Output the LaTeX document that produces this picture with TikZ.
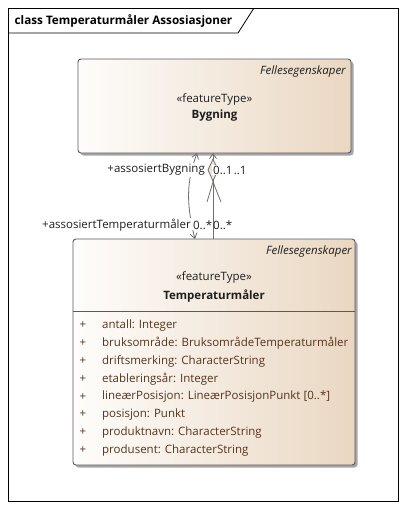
\documentclass[tikz,border=0pt]{standalone}
\usepackage{fontspec}
\setmainfont{Open Sans}
\usetikzlibrary{arrows.meta,shadows}
\definecolor{tanr}{RGB}{234,215,194}
\definecolor{tanl}{RGB}{254,253,251}
\definecolor{boxline}{RGB}{90,90,90}
\definecolor{connline}{RGB}{110,110,110}
\definecolor{attrcol}{RGB}{85,52,30}
\definecolor{txt}{RGB}{30,30,30}
\definecolor{diam}{RGB}{243,226,205}
\tikzset{
  classbox/.style={draw=boxline, line width=0.9pt, rounded corners=3pt,
    left color=tanl, right color=tanr, inner sep=0pt,
    drop shadow={shadow xshift=2.5pt, shadow yshift=-2.5pt, fill=black, opacity=0.35}},
  conn/.style={draw=connline, line width=0.8pt},
  barbtip/.tip={Straight Barb[length=5pt,width=7pt]},
  lbl/.style={fill=white, inner sep=1pt, text=txt},
  lblnf/.style={inner sep=1pt, text=txt},
  attr/.style={anchor=west, inner sep=0pt, text=attrcol},
  plus/.style={inner sep=0pt, text=attrcol},
}
\begin{document}
\begin{tikzpicture}[x=1pt,y=-1pt,font=\fontsize{11.5}{13}\selectfont]
\useasboundingbox (0,0) rectangle (405,509);
\fill[white] (0,0) rectangle (405,509);
% frame
\draw[black, line width=0.8pt] (8,8) rectangle (398,501);
\draw[black, line width=0.8pt] (8,33) -- (238,33) -- (254,8);
\node[anchor=west, inner sep=0pt, text=black, font=\fontsize{11.7}{13}\selectfont\bfseries] (title) at (14.5,21) {class Temperaturmåler Assosiasjoner};

% class boxes
\node[classbox, minimum width=273pt, minimum height=94pt] (byg) at (214.5,106) {};
\node[classbox, minimum width=282pt, minimum height=226pt] (tm) at (214,352) {};
\draw[boxline, line width=0.9pt] (73,311) -- (355,311);

% Bygning texts
\node[anchor=east, inner sep=0pt, text=txt, font=\fontsize{11.5}{13}\selectfont\itshape] (bygfs) at (346,72) {Fellesegenskaper};
\node[inner sep=0pt, text=txt] (bygst) at (214.5,99) {«featureType»};
\node[inner sep=0pt, text=txt, font=\fontsize{11.5}{13}\selectfont\bfseries] (bygnm) at (214.5,116) {Bygning};

% Temperaturmaler texts
\node[anchor=east, inner sep=0pt, text=txt, font=\fontsize{11.5}{13}\selectfont\itshape] (tmfs) at (352,252) {Fellesegenskaper};
\node[inner sep=0pt, text=txt] (tmst) at (214,277) {«featureType»};
\node[inner sep=0pt, text=txt, font=\fontsize{11.5}{13}\selectfont\bfseries] (tmnm) at (214,296) {Temperaturmåler};

\foreach \t [count=\i from 0] in {antall: Integer, bruksområde: BruksområdeTemperaturmåler, driftsmerking: CharacterString, etableringsår: Integer, lineærPosisjon: LineærPosisjonPunkt [0..*], posisjon: Punkt, produktnavn: CharacterString, produsent: CharacterString}{
  \node[plus] (p\i) at (83,325.5+17.8*\i) {+};
  \node[attr] (a\i) at (102,325.5+17.8*\i) {\t};
}

% connectors
\coordinate (ltop) at (197,153);
\coordinate (lbot) at (195,239);
\coordinate (rtop) at (213,153);
\coordinate (rbot) at (213,239);
\draw[conn, barbtip-barbtip] (ltop) .. controls (189,176) and (184,196) .. (lbot);
\draw[conn, barbtip-] (rtop) -- (rbot);
\draw[draw=connline, fill=diam, line width=0.8pt] (213,159) -- (208,170) -- (213,181) -- (218,170) -- cycle;
\draw[conn] (207,202) -- (213,182) -- (221,202);

% labels
\node[lbl, anchor=east] (rb) at (206,170) {+assosiertBygning};
\node[lbl, anchor=west] (m1) at (212,170) {0..1};
\node[lblnf, anchor=west, inner sep=0pt] (m2) at (m1.east) {..1};
\node[lblnf, anchor=west] (m4) at (212,225) {0..*};
\node[lbl, anchor=west] (rt) at (41,225) {+assosiertTemperaturmåler};
\node[lbl, anchor=west] (m3) at (rt.east) {0..*};
\end{tikzpicture}
\end{document}
